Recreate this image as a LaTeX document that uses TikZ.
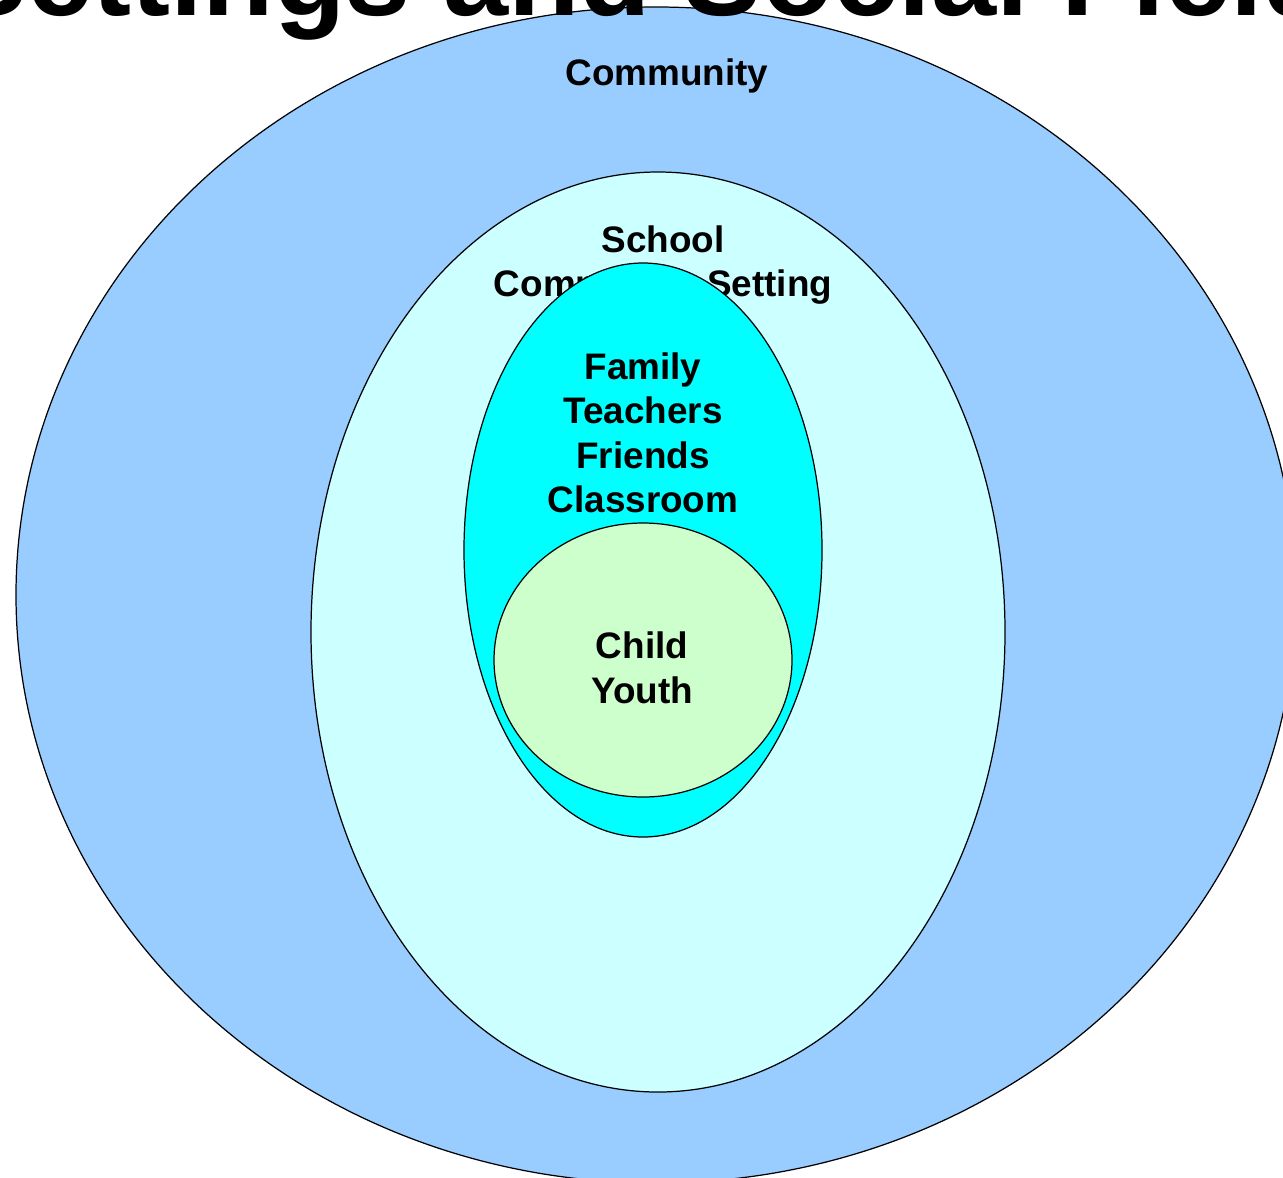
\documentclass[tikz,border=0pt]{standalone}
\usepackage{fontspec}
\setmainfont{Liberation Sans}
\usepackage{tikz}
\definecolor{commblue}{HTML}{99CCFF}
\definecolor{schoolcyan}{HTML}{CCFFFF}
\definecolor{familycyan}{HTML}{00FFFF}
\definecolor{childgreen}{HTML}{CCFFCC}
\pgfkeys{tikz/ring/.style={draw=black, line width=0.7pt}}
\pgfkeys{tikz/ringtext/.style={font=\bfseries\fontsize{21}{25.3}\selectfont, 
                                   align=center, 
                                   inner sep=0pt}}
\begin{document}
\begin{tikzpicture}[x=0.02cm, y=-0.02cm]
            \useasboundingbox (0,0) rectangle (1283,1177);
            \clip (0,0) rectangle (1283,1177);

            \draw[ring, fill=commblue] (656,595) ellipse [x radius=640, y radius=588];
            \node[ringtext, anchor=base] (community) at (667,85) {Community};

                    \draw[ring, fill=schoolcyan] (658,632) ellipse [x radius=347, y radius=460];
                    \node[ringtext] (school) at (663,265) {School\\Community Setting};

                    \draw[ring, fill=familycyan] (643,550) ellipse [x radius=179, y radius=287];
                    \node[ringtext] (family) at (643,433) {Family\\Teachers\\Friends\\Classroom};

                    \draw[ring, fill=childgreen] (643,660) ellipse [x radius=149, y radius=137];
                    \node[ringtext] (child) at (642,668) {Child\\Youth};

            \node[anchor=base west, inner sep=0pt, font=\bfseries\fontsize{66.6}{80}\selectfont] (title) at (-51,15) {Settings and Social Fields};
\end{tikzpicture}
\end{document}
